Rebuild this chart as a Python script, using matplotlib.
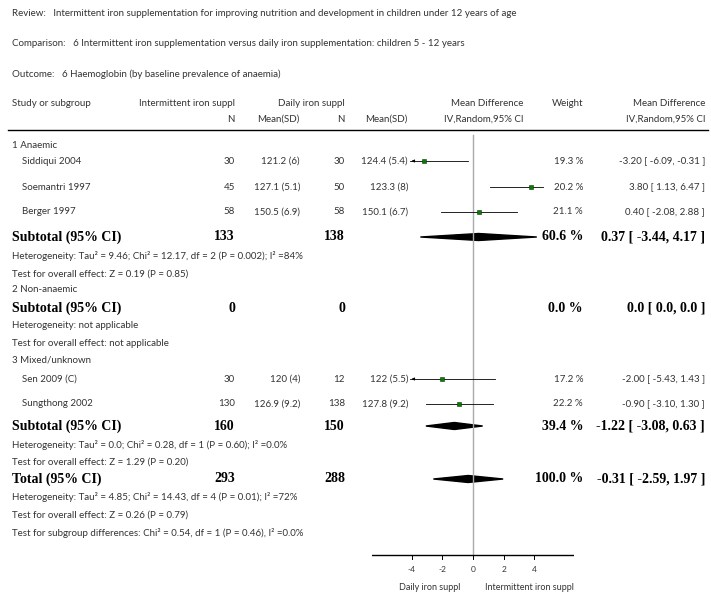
import matplotlib
matplotlib.use("Agg")
import matplotlib.pyplot as plt

# ---- data ----
studies = ["Siddiqui 2004", "Soemantri 1997", "Berger 1997", "Sen 2009 (C)", "Sungthong 2002"]
int_n = [30, 45, 58, 30, 130]
int_msd = ["121.2 (6)", "127.1 (5.1)", "150.5 (6.9)", "120 (4)", "126.9 (9.2)"]
day_n = [30, 50, 58, 12, 138]
day_msd = ["124.4 (5.4)", "123.3 (8)", "150.1 (6.7)", "122 (5.5)", "127.8 (9.2)"]
md = [-3.20, 3.80, 0.40, -2.00, -0.90]
lo = [-6.09, 1.13, -2.08, -5.43, -3.10]
hi = [-0.31, 6.47, 2.88, 1.43, 1.30]
weights = [19.3, 20.2, 21.1, 17.2, 22.2]
study_rows = [161, 187, 212, 379, 404]

sub_rows = [237, 308, 426, 479]
sub_labels = ["Subtotal (95% CI)", "Subtotal (95% CI)", "Subtotal (95% CI)", "Total (95% CI)"]
sub_int_n = [133, 0, 160, 293]
sub_day_n = [138, 0, 150, 288]
sub_w = ["60.6 %", "0.0 %", "39.4 %", "100.0 %"]
sub_ci_txt = ["0.37 [ -3.44, 4.17 ]", "0.0 [ 0.0, 0.0 ]", "-1.22 [ -3.08, 0.63 ]", "-0.31 [ -2.59, 1.97 ]"]
sub_md = [0.37, None, -1.22, -0.31]
sub_lo = [-3.44, None, -3.08, -2.59]
sub_hi = [4.17, None, 0.63, 1.97]

small_lines = [
    (146, "1 Anaemic"),
    (256, "Heterogeneity: Tau² = 9.46; Chi² = 12.17, df = 2 (P = 0.002); I² =84%"),
    (274, "Test for overall effect: Z = 0.19 (P = 0.85)"),
    (290, "2 Non-anaemic"),
    (326, "Heterogeneity: not applicable"),
    (343, "Test for overall effect: not applicable"),
    (360, "3 Mixed/unknown"),
    (445, "Heterogeneity: Tau² = 0.0; Chi² = 0.28, df = 1 (P = 0.60); I² =0.0%"),
    (462, "Test for overall effect: Z = 1.29 (P = 0.20)"),
    (497, "Heterogeneity: Tau² = 4.85; Chi² = 14.43, df = 4 (P = 0.01); I² =72%"),
    (515, "Test for overall effect: Z = 0.26 (P = 0.79)"),
    (533, "Test for subgroup differences: Chi² = 0.54, df = 1 (P = 0.46), I² =0.0%"),
]
ticks = [-4, -2, 0, 2, 4]

W, H = 711, 597
fig = plt.figure(figsize=(W / 100, H / 100), dpi=100)
ax = fig.add_axes([0, 0, 1, 1])
ax.set_xlim(0, W)
ax.set_ylim(H, 0)
ax.axis("off")

sans = "Lato"
serif = "Liberation Serif"
fs = 7
tc = "#333333"

def t(x, y, s, ha="left", bold=False, size=fs):
    ax.text(x, y, s, ha=ha, va="center", fontsize=10 if bold else size,
            family=serif if bold else sans, fontweight="bold" if bold else "normal",
            color="black" if bold else tc)

t(12, 14, "Review:   Intermittent iron supplementation for improving nutrition and development in children under 12 years of age")
t(12, 44, "Comparison:   6 Intermittent iron supplementation versus daily iron supplementation: children 5 - 12 years")
t(12, 74, "Outcome:   6 Haemoglobin (by baseline prevalence of anaemia)")

t(12, 103, "Study or subgroup")
t(235, 103, "Intermittent iron suppl", ha="right")
t(345, 103, "Daily iron suppl", ha="right")
t(523, 103, "Mean Difference", ha="right")
t(583, 103, "Weight", ha="right")
t(705, 103, "Mean Difference", ha="right")
t(235, 119, "N", ha="right")
t(300, 119, "Mean(SD)", ha="right")
t(345, 119, "N", ha="right")
t(408, 119, "Mean(SD)", ha="right")
t(523, 119, "IV,Random,95% CI", ha="right")
t(705, 119, "IV,Random,95% CI", ha="right")
ax.plot([8, 708], [130, 130], color="black", lw=1)

for y, s in small_lines:
    t(12, y, s)

for i, y in enumerate(study_rows):
    t(22, y, studies[i])
    t(235, y, str(int_n[i]), ha="right")
    t(300, y, int_msd[i], ha="right")
    t(345, y, str(day_n[i]), ha="right")
    t(408, y, day_msd[i], ha="right")
    t(583, y, f"{weights[i]} %", ha="right")
    t(705, y, f"{md[i]:.2f} [ {lo[i]:.2f}, {hi[i]:.2f} ]", ha="right")

for i, y in enumerate(sub_rows):
    t(12, y, sub_labels[i], bold=True)
    t(235, y, str(sub_int_n[i]), ha="right", bold=True)
    t(345, y, str(sub_day_n[i]), ha="right", bold=True)
    t(583, y, sub_w[i], ha="right", bold=True)
    t(705, y, sub_ci_txt[i], ha="right", bold=True)

# ---- forest panel: x in mean-difference units, y in pixel rows ----
x0, x1 = 372, 574
fa = fig.add_axes([x0 / W, 0, (x1 - x0) / W, 1])
fa.set_xlim(-6.6, 6.6)
fa.set_ylim(H, 0)
fa.axis("off")
fa.plot([0, 0], [135, 555], color="#aaaaaa", lw=1)
fa.plot([-6.6, 6.6], [555, 555], color="black", lw=1)
clip = 4.0
for i, y in enumerate(study_rows):
    a, b = max(lo[i], -clip - 0.1), min(hi[i], clip + 0.6)
    fa.plot([a, b], [y, y], color="black", lw=0.6)
    if lo[i] < -clip:
        fa.annotate("", xy=(a - 0.1, y), xytext=(a + 0.4, y),
                    arrowprops=dict(arrowstyle="-|>", color="black", lw=0.6, mutation_scale=4))
    s = 2 + weights[i] * 0.07
    fa.plot(md[i], y, marker="s", ms=s, mfc="#0a7a0a", mec="#0a3a0a", mew=0.4)
for i, y in enumerate(sub_rows):
    if sub_md[i] is None:
        continue
    fa.fill([sub_lo[i], sub_md[i], sub_hi[i], sub_md[i]], [y, y - 3.5, y, y + 3.5], color="black")
for v in ticks:
    fa.plot([v, v], [555, 559], color="black", lw=0.7)
    fa.text(v, 570, str(v), ha="center", va="center", fontsize=6, family=sans, color=tc)
fa.text(-0.8, 588, "Daily iron suppl", ha="right", va="center", fontsize=6.5, family=sans, color=tc)
fa.text(0.8, 588, "Intermittent iron suppl", ha="left", va="center", fontsize=6.5, family=sans, color=tc)

fig.savefig("out.png", dpi=100, facecolor="white")
